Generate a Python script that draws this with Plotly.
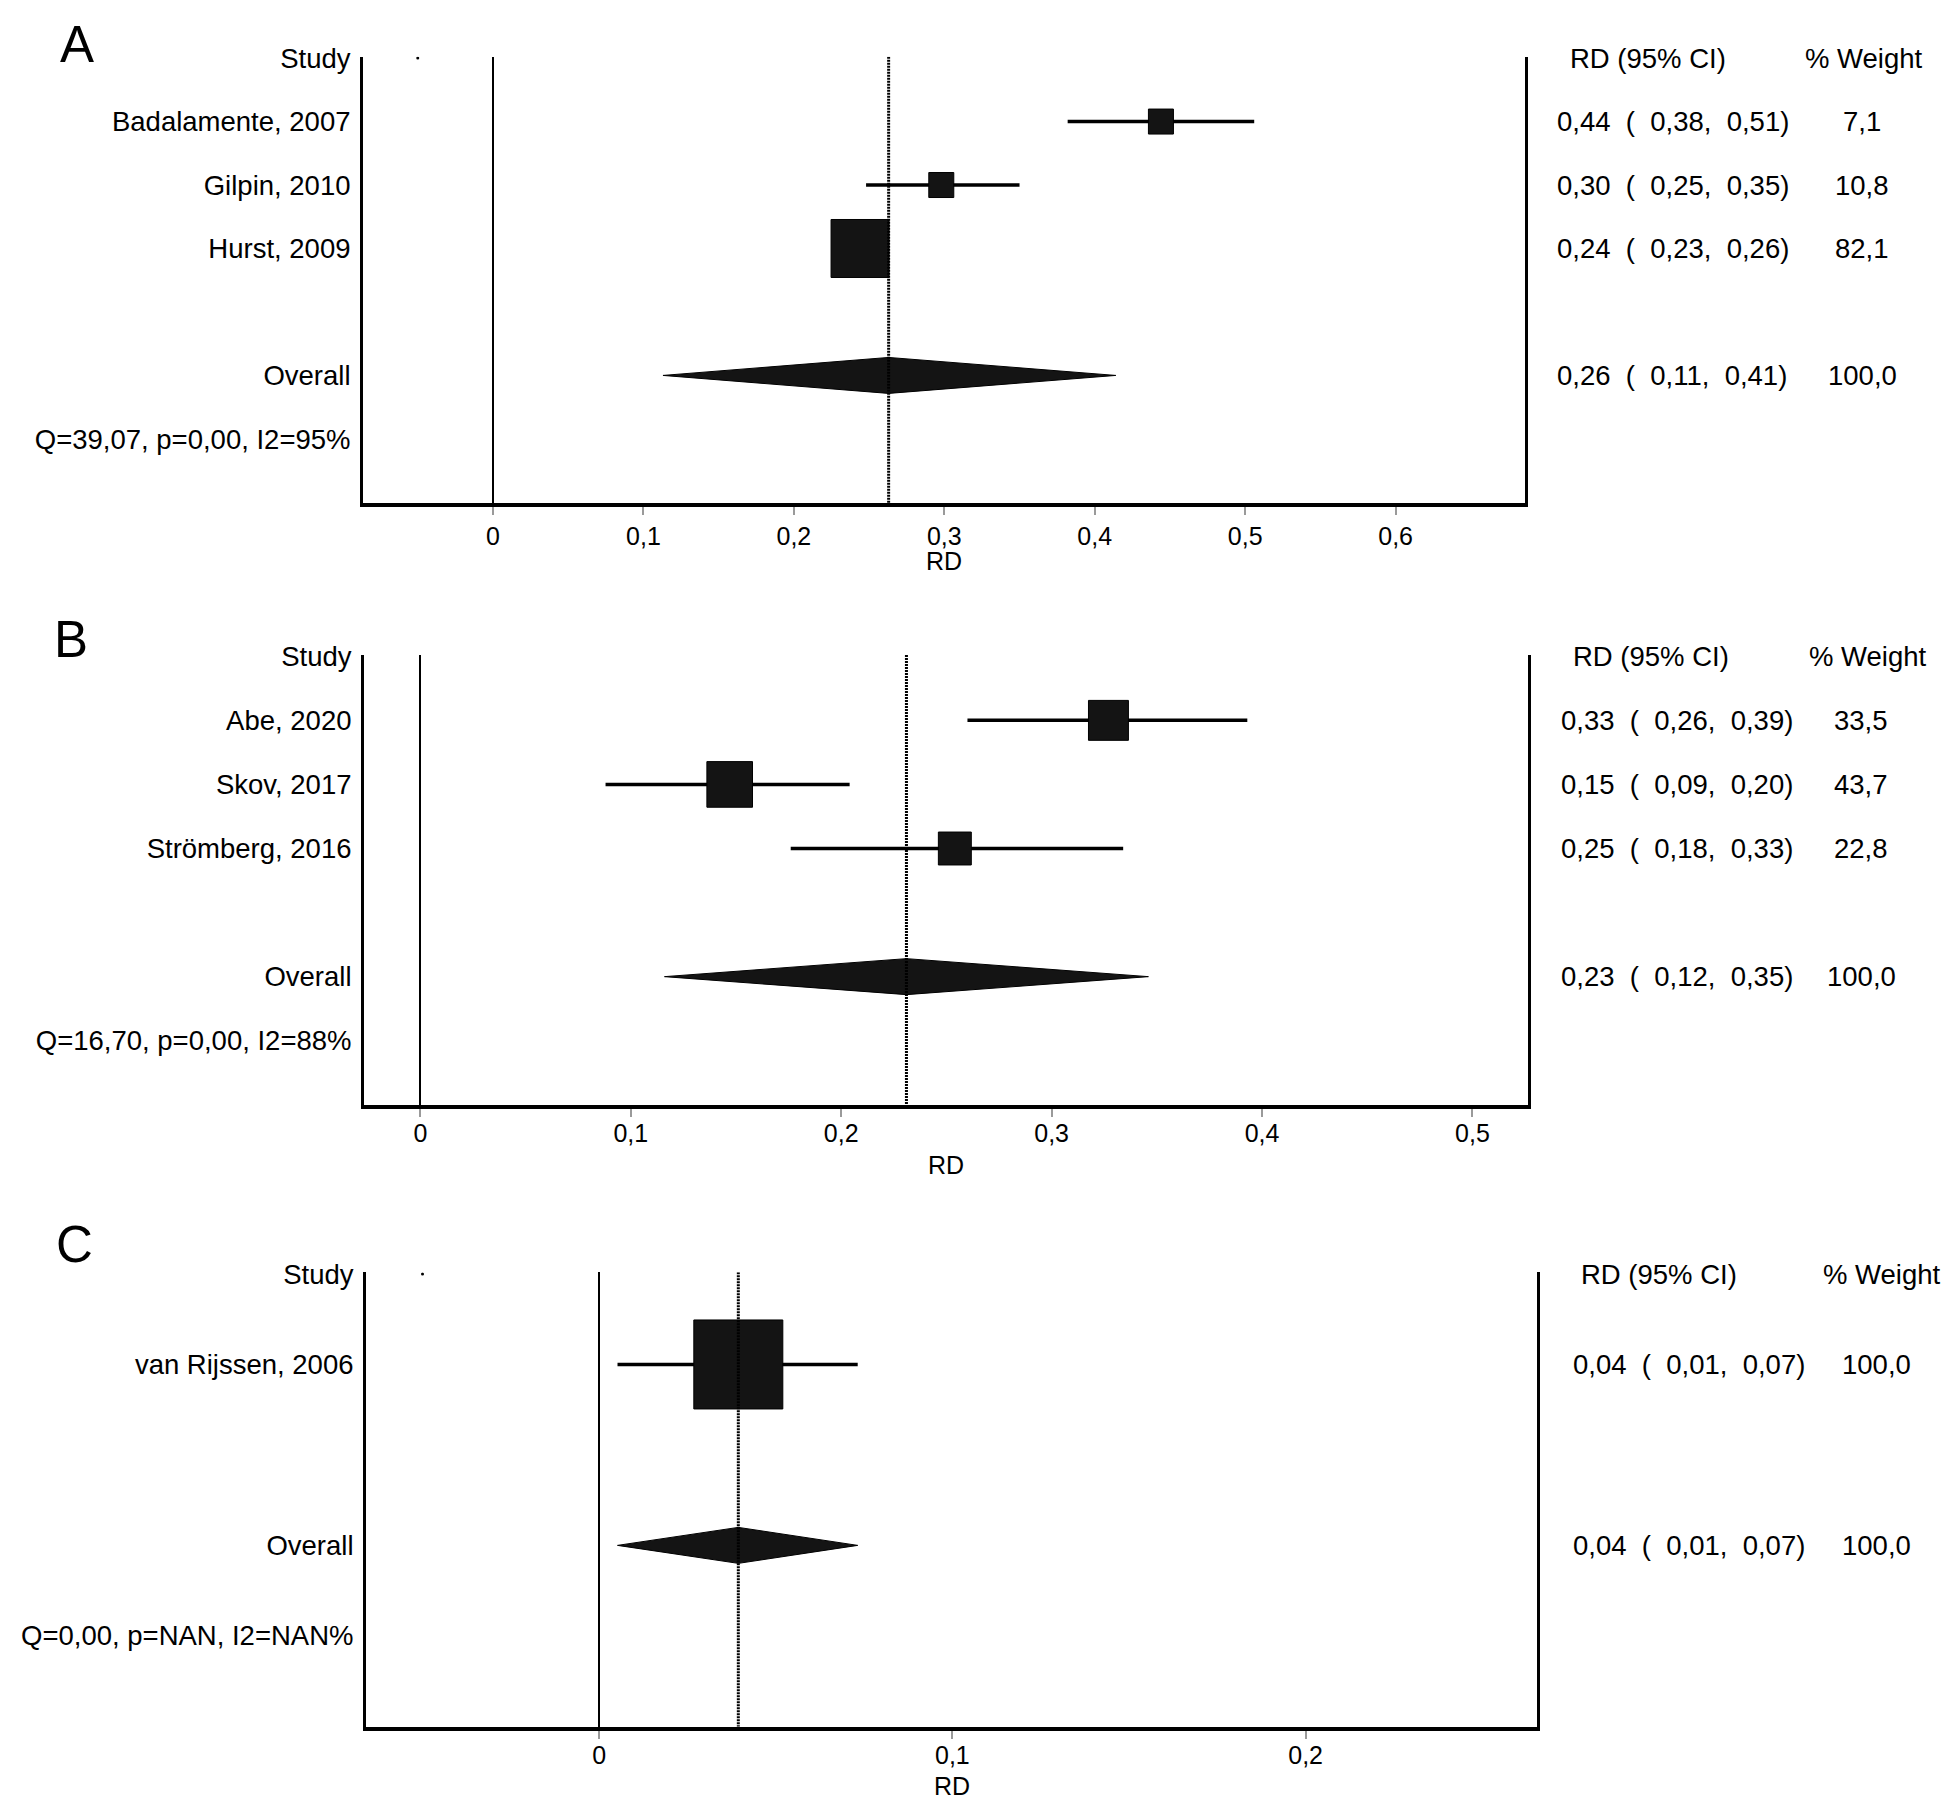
import math
import plotly.graph_objects as go

W, H = 1944, 1802

# ---------------- data ----------------
A_studies = ["Badalamente, 2007", "Gilpin, 2010", "Hurst, 2009"]
A_rd = [0.444, 0.298, 0.244]
A_lo = [0.382, 0.248, 0.229]
A_hi = [0.506, 0.350, 0.259]
A_weight = [7.1, 10.8, 82.1]
A_overall = [0.263, 0.113, 0.414]          # estimate, lower, upper
A_het = "Q=39,07, p=0,00, I2=95%"
A_ticks = [0, 0.1, 0.2, 0.3, 0.4, 0.5, 0.6]
A_ticklabels = ["0", "0,1", "0,2", "0,3", "0,4", "0,5", "0,6"]

B_studies = ["Abe, 2020", "Skov, 2017", "Strömberg, 2016"]
B_rd = [0.327, 0.147, 0.254]
B_lo = [0.260, 0.088, 0.176]
B_hi = [0.393, 0.204, 0.334]
B_weight = [33.5, 43.7, 22.8]
B_overall = [0.231, 0.116, 0.346]
B_het = "Q=16,70, p=0,00, I2=88%"
B_ticks = [0, 0.1, 0.2, 0.3, 0.4, 0.5]
B_ticklabels = ["0", "0,1", "0,2", "0,3", "0,4", "0,5"]

C_studies = ["van Rijssen, 2006"]
C_rd = [0.0394]
C_lo = [0.0052]
C_hi = [0.0732]
C_weight = [100.0]
C_overall = [0.0394, 0.0052, 0.0732]
C_het = "Q=0,00, p=NAN, I2=NAN%"
C_ticks = [0, 0.1, 0.2]
C_ticklabels = ["0", "0,1", "0,2"]

HEADER_STUDY = "Study"
HEADER_CI = "RD (95% CI)"
HEADER_WT = "% Weight"
OVERALL_LABEL = "Overall"
AXIS_TITLE = "RD"

# ---------------- layout / styling ----------------
FONT = "Liberation Sans, Arial, Helvetica, sans-serif"
LETTER_FONT = "Liberation Sans, Arial, sans-serif"
BOX_FILL = "#141414"
NBSP = "\u00a0"

# vertical calibration of the capture (observed offset / scale)
Y_OFF, Y_SCALE = 12.4, 0.9927


def vy(px):
    return (px - Y_OFF) / Y_SCALE


panels = [
    dict(letter="A", studies=A_studies, rd=A_rd, lo=A_lo, hi=A_hi, w=A_weight,
         ov=A_overall, het=A_het, ticks=A_ticks, ticklabels=A_ticklabels,
         letter_x=77, letter_y=None, x_px=(363, 1525), xrange=(-0.0864, 0.686),
         row0=56.5, rowpx=63.5, axis=502, box_k=6.4, box_min=25, tstand=0,
         ci_x=1555, hdr_x=1568, wthdr_x=1803, wt_x=1862, title_y=560),
    dict(letter="B", studies=B_studies, rd=B_rd, lo=B_lo, hi=B_hi, w=B_weight,
         ov=B_overall, het=B_het, ticks=B_ticks, ticklabels=B_ticklabels,
         letter_x=71, letter_y=638.5, x_px=(364, 1528), xrange=(-0.0268, 0.5264),
         row0=655, rowpx=64.1, axis=1104, box_k=6.9, box_min=0, tstand=-5,
         ci_x=1559, hdr_x=1571, wthdr_x=1807, wt_x=1861, title_y=1164),
    dict(letter="C", studies=C_studies, rd=C_rd, lo=C_lo, hi=C_hi, w=C_weight,
         ov=C_overall, het=C_het, ticks=C_ticks, ticklabels=C_ticklabels,
         letter_x=74, letter_y=1243.5, x_px=(366, 1537), xrange=(-0.066, 0.2655),
         row0=1273, rowpx=90.5, axis=1726, box_k=8.9, box_min=0, tstand=-5,
         ci_x=1571, hdr_x=1579, wthdr_x=1821, wt_x=1876, title_y=1785),
]

DIAMOND_HALF_PX = 18.0


def fmt2(v):
    return f"{v:.2f}".replace(".", ",")


def fmt1(v):
    return f"{v:.1f}".replace(".", ",")


def ci_text(est, lo, hi):
    sp = NBSP * 2
    return f"{fmt2(est)}{sp}({sp}{fmt2(lo)},{sp}{fmt2(hi)})"


fig = go.Figure()
annotations = []
layout_axes = {}

for i, p in enumerate(panels):
    sfx = "" if i == 0 else str(i + 1)
    xa, ya = "x" + sfx, "y" + sfx
    n = len(p["studies"])
    rows = list(range(1, n + 1))
    ov_row = n + 2
    het_row = n + 3
    row0 = vy(p["row0"])
    rowpx = p["rowpx"] / Y_SCALE
    axis_px = vy(p["axis"])
    bottom_row = (axis_px - row0) / rowpx
    top_row = -0.02

    cx, cy = [], []
    for r, lo, hi in zip(rows, p["lo"], p["hi"]):
        cx += [lo, hi, None]
        cy += [r, r, None]
    fig.add_trace(go.Scatter(x=cx, y=cy, mode="lines", xaxis=xa, yaxis=ya,
                             line=dict(color="black", width=3.5), hoverinfo="skip",
                             showlegend=False))
    sizes = [max(p["box_min"], p["box_k"] * math.sqrt(w)) for w in p["w"]]
    fig.add_trace(go.Scatter(x=p["rd"], y=rows, mode="markers", xaxis=xa, yaxis=ya,
                             marker=dict(symbol="square", size=sizes, color=BOX_FILL,
                                         opacity=1,
                                         line=dict(color="black", width=1)),
                             showlegend=False))
    est, lo, hi = p["ov"]
    h = DIAMOND_HALF_PX / p["rowpx"]
    fig.add_trace(go.Scatter(x=[lo, est, hi, est, lo],
                             y=[ov_row, ov_row - h, ov_row, ov_row + h, ov_row],
                             mode="lines", fill="toself", fillcolor=BOX_FILL,
                             xaxis=xa, yaxis=ya,
                             line=dict(color="black", width=1), showlegend=False))
    fig.add_trace(go.Scatter(x=[est, est], y=[top_row, bottom_row], mode="lines",
                             xaxis=xa, yaxis=ya,
                             line=dict(color="black", width=3, dash="2px,1px"),
                             hoverinfo="skip", showlegend=False))
    fig.add_trace(go.Scatter(x=[-0.05], y=[0], mode="markers", xaxis=xa, yaxis=ya,
                             marker=dict(color="black", size=3), cliponaxis=True,
                             hoverinfo="skip", showlegend=False))

    x0p, x1p = p["x_px"]
    layout_axes["xaxis" + sfx] = dict(
        domain=[x0p / W, x1p / W], range=list(p["xrange"]), anchor=ya,
        showgrid=False, zeroline=True, zerolinecolor="black", zerolinewidth=1.5,
        showline=True, linecolor="black", linewidth=3.5,
        ticks="outside", ticklen=8, tickwidth=1.5, tickcolor="#9a9a9a",
        tickvals=p["ticks"], ticktext=p["ticklabels"],
        ticklabelstandoff=p["tstand"],
        tickfont=dict(family=FONT, size=25, color="black"), fixedrange=True)
    dom_top = 1 - (row0 + top_row * rowpx) / H
    dom_bot = 1 - axis_px / H
    layout_axes["yaxis" + sfx] = dict(
        domain=[dom_bot, dom_top], range=[bottom_row, top_row], anchor=xa,
        showgrid=False, zeroline=False, showline=True, mirror=True,
        linecolor="black", linewidth=3,
        ticks="", tickvals=[0] + rows + [ov_row, het_row],
        ticktext=[HEADER_STUDY] + p["studies"] + [OVERALL_LABEL, p["het"]],
        tickfont=dict(family=FONT, size=27.5, color="black"),
        ticklabelstandoff=4, fixedrange=True)

    def ann(text, xpx, row, anchor="left", size=27.5):
        annotations.append(dict(text=text, x=xpx / W, xref="paper", y=row, yref=ya,
                                xanchor=anchor, yanchor="middle", showarrow=False,
                                font=dict(family=FONT, size=size, color="black")))

    ann(HEADER_CI, p["hdr_x"], 0)
    ann(HEADER_WT, p["wthdr_x"], 0)
    for r, e, l, u, w in zip(rows, p["rd"], p["lo"], p["hi"], p["w"]):
        ann(ci_text(e, l, u), p["ci_x"], r)
        ann(fmt1(w), p["wt_x"], r, anchor="center")
    ann(ci_text(est, lo, hi), p["ci_x"], ov_row)
    ann(fmt1(sum(p["w"])), p["wt_x"], ov_row, anchor="center")

    annotations.append(dict(text=AXIS_TITLE, x=(x0p + x1p) / 2 / W, xref="paper",
                            y=1 - min(vy(p["title_y"]), H - 16) / H, yref="paper",
                            xanchor="center", yanchor="middle", showarrow=False,
                            font=dict(family=FONT, size=25, color="black")))
    if p["letter_y"] is None:
        ly, yanc = 0.0, "top"
    else:
        ly, yanc = vy(p["letter_y"]), "middle"
    annotations.append(dict(text=p["letter"], x=p["letter_x"] / W, xref="paper",
                            y=1 - ly / H, yref="paper",
                            xanchor="center", yanchor=yanc, showarrow=False,
                            font=dict(family=LETTER_FONT, size=51, color="black")))

fig.update_layout(width=W, height=H, margin=dict(l=0, r=0, t=0, b=0),
                  paper_bgcolor="white", plot_bgcolor="white",
                  showlegend=False, annotations=annotations, **layout_axes)

fig.write_html(
    "out.html", config={"displayModeBar": False},
    post_script=("document.documentElement.style.margin='0';"
                 "document.documentElement.style.overflow='hidden';"
                 "document.body.style.margin='0';document.body.style.padding='0';"))
